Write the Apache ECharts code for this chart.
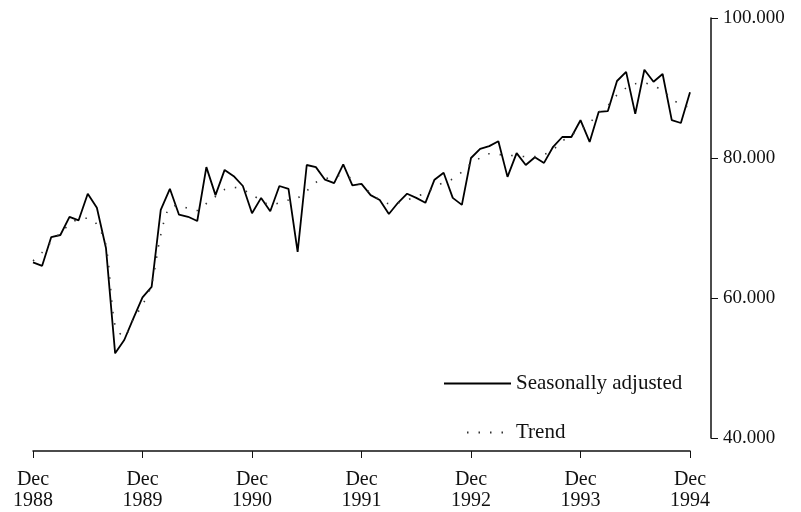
<!DOCTYPE html>
<html>
<head>
<meta charset="utf-8">
<script src="https://cdn.jsdelivr.net/npm/echarts@6/dist/echarts.min.js"></script>
<style>
  html, body { margin: 0; padding: 0; background: #fff; }
  #chart { width: 801px; height: 512px; }
</style>
</head>
<body>
<div id="chart"></div>
<script>
// monthly, Dec 1988 .. Dec 1994 (thousands)
const months = []
for (let y = 1988; y <= 1994; y++) {
  const list = y === 1988 ? ['Dec'] : ['Jan', 'Feb', 'Mar', 'Apr', 'May', 'Jun', 'Jul', 'Aug', 'Sep', 'Oct', 'Nov', 'Dec']
  list.forEach((m) => months.push(m + '\n' + y))
}

const seasonallyAdjusted = [
  65.1, 64.6, 68.7, 69.0, 71.6, 71.1, 74.9, 72.9, 67.1, 52.1, 54.0, 57.1,
  60.1, 61.6, 72.6, 75.6, 71.9, 71.6, 71.0, 78.7, 74.7, 78.3, 77.4, 76.0,
  72.1, 74.3, 72.4, 76.0, 75.6, 66.6, 79.0, 78.7, 76.9, 76.4, 79.1, 76.1,
  76.3, 74.7, 74.0, 72.0, 73.6, 74.9, 74.3, 73.6, 76.9, 77.9, 74.3, 73.3,
  80.0, 81.3, 81.7, 82.4, 77.3, 80.7, 79.0, 80.1, 79.3, 81.6, 83.0, 83.0,
  85.4, 82.3, 86.6, 86.7, 91.0, 92.3, 86.3, 92.6, 90.9, 92.0, 85.4, 85.0,
  89.4,
]

const trend = [
  65.3, 66.5, 68.0, 69.3, 70.5, 71.3, 71.4, 70.5, 67.5, 56.0, 54.5, 57.0,
  59.0, 62.0, 69.0, 73.0, 73.2, 72.8, 72.5, 73.5, 74.5, 75.5, 75.8, 75.5,
  74.7, 74.0, 73.3, 73.6, 74.0, 74.3, 75.3, 76.5, 77.0, 77.4, 77.5, 77.0,
  76.0, 75.0, 74.0, 73.5, 73.6, 74.0, 74.5, 75.0, 75.8, 76.5, 77.0, 78.0,
  79.2, 80.0, 80.6, 80.5, 80.4, 80.3, 80.2, 80.2, 80.5, 81.2, 82.4, 83.3,
  84.0, 85.0, 86.5, 87.5, 89.0, 90.0, 90.6, 90.7, 90.3, 89.6, 88.5, 87.6,
  87.3,
]

const yTicks = [40000, 60000, 80000, 100000]

const font = 'Liberation Serif'
const ink = '#111'

const legendBase = {
  padding: 0,
  itemHeight: 14,
  itemGap: 6,
  itemStyle: { opacity: 0 },
  textStyle: { fontFamily: font, fontSize: 21, color: ink, padding: [0, 0, 0, 0] },
}

const chart = echarts.init(document.getElementById('chart'))
chart.setOption({
  animation: false,
  backgroundColor: '#fff',
  textStyle: { fontFamily: font, color: ink },
  grid: { left: 33, right: 111, top: 18, bottom: 74 },
  legend: [
    Object.assign({}, legendBase, {
      data: ['Seasonally adjusted'],
      left: 443,
      top: 373,
      itemWidth: 67,
    }),
    Object.assign({}, legendBase, {
      data: ['Trend'],
      left: 466,
      top: 422,
      itemWidth: 44,
    }),
  ],
  xAxis: {
    type: 'category',
    data: months,
    boundaryGap: false,
    offset: 13,
    axisLine: { lineStyle: { color: ink, width: 1.5 } },
    axisTick: { interval: 11, length: 7, lineStyle: { color: ink } },
    axisLabel: {
      interval: 11,
      margin: 18,
      fontFamily: font,
      fontSize: 20,
      lineHeight: 21,
      color: ink,
    },
    splitLine: { show: false },
  },
  yAxis: {
    type: 'value',
    position: 'right',
    offset: 21,
    min: yTicks[0] / 1000,
    max: yTicks[yTicks.length - 1] / 1000,
    interval: 20,
    axisLine: { show: true, lineStyle: { color: ink, width: 1.5 } },
    axisTick: { show: true, length: 7, lineStyle: { color: ink } },
    axisLabel: {
      margin: 12,
      fontFamily: font,
      fontSize: 19,
      color: ink,
      formatter: (v) => v + '.000',
    },
    splitLine: { show: false },
  },
  series: [
    {
      name: 'Seasonally adjusted',
      type: 'line',
      data: seasonallyAdjusted,
      symbol: 'none',
      lineStyle: { color: '#000', width: 1.8 },
      itemStyle: { color: '#000' },
    },
    {
      name: 'Trend',
      type: 'line',
      data: trend,
      symbol: 'none',
      smooth: 0.3,
      lineStyle: { color: '#333', width: 1.6, type: [1.5, 10] },
      itemStyle: { color: '#333' },
    },
  ],
})
</script>
</body>
</html>
